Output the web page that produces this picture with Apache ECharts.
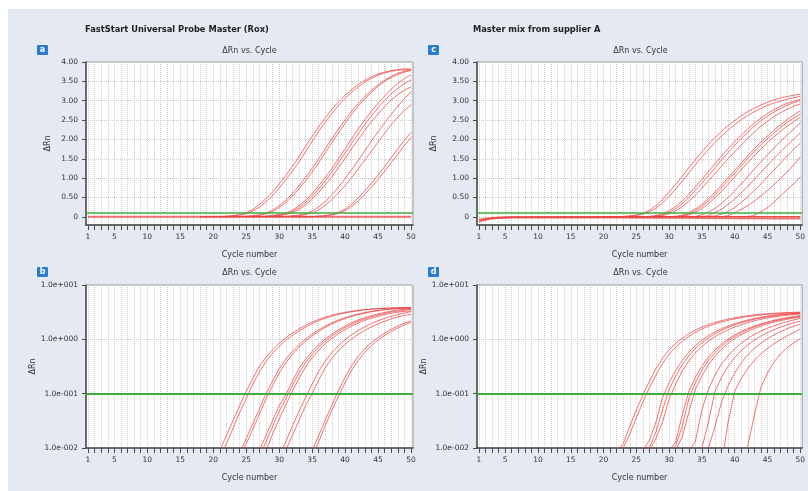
<!DOCTYPE html>
<html>
<head>
<meta charset="utf-8">
<script src="https://cdn.jsdelivr.net/npm/echarts@6/dist/echarts.min.js"></script>
<style>
  html, body { margin: 0; padding: 0; background: #fff; }
  #chart { width: 808px; height: 491px; }
</style>
</head>
<body>
<div id="chart"></div>
<script>
// axis ticks
const cycleTicks = [1, 2, 3, 4, 5, 6, 7, 8, 9, 10, 11, 12, 13, 14, 15, 16, 17, 18, 19, 20,
  21, 22, 23, 24, 25, 26, 27, 28, 29, 30, 31, 32, 33, 34, 35, 36, 37, 38, 39, 40,
  41, 42, 43, 44, 45, 46, 47, 48, 49, 50]
const cycleLabels = [1, 5, 10, 15, 20, 25, 30, 35, 40, 45, 50]
const linearTicks = [0, 0.5, 1, 1.5, 2, 2.5, 3, 3.5, 4]
const threshold = 0.1

// FastStart Universal Probe Master (Rox): first cycle of each curve, then ΔRn per cycle
const fastStartStarts = [18, 18, 21, 21, 25, 25, 26, 28, 29, 32, 33]
const fastStartCurves = [
  [.002, .003, .005, .009, .017, .032, .06, .11, .19, .32, .47, .64, .85, 1.07, 1.30, 1.55, 1.82, 2.08, 2.33, 2.56, 2.78, 2.97, 3.14, 3.29, 3.42, 3.53, 3.62, 3.69, 3.74, 3.78, 3.80, 3.82, 3.82],
  [.0015, .002, .004, .007, .012, .023, .045, .08, .15, .25, .39, .55, .74, .96, 1.18, 1.42, 1.68, 1.95, 2.21, 2.45, 2.67, 2.88, 3.06, 3.22, 3.36, 3.48, 3.58, 3.66, 3.72, 3.76, 3.79, 3.80, 3.80],
  [.002, .003, .005, .008, .015, .028, .052, .1, .17, .29, .43, .6, .8, 1.02, 1.25, 1.5, 1.76, 2.02, 2.27, 2.51, 2.73, 2.93, 3.11, 3.27, 3.41, 3.53, 3.63, 3.71, 3.76, 3.80],
  [.0015, .0025, .004, .007, .012, .022, .042, .08, .14, .24, .37, .53, .72, .93, 1.16, 1.4, 1.66, 1.92, 2.17, 2.42, 2.65, 2.86, 3.05, 3.22, 3.37, 3.5, 3.6, 3.68, 3.74, 3.78],
  [.003, .005, .009, .017, .032, .06, .095, .17, .29, .43, .6, .8, 1.02, 1.25, 1.5, 1.76, 2.02, 2.27, 2.51, 2.73, 2.93, 3.12, 3.3, 3.45, 3.57, 3.67],
  [.002, .004, .007, .013, .025, .047, .08, .14, .24, .37, .53, .72, .93, 1.16, 1.4, 1.65, 1.9, 2.15, 2.39, 2.61, 2.82, 3.01, 3.18, 3.32, 3.44, 3.54],
  [.003, .005, .009, .018, .034, .062, .11, .19, .31, .46, .63, .83, 1.04, 1.27, 1.51, 1.76, 2.0, 2.24, 2.46, 2.66, 2.85, 3.02, 3.16, 3.27, 3.36],
  [.002, .004, .007, .013, .025, .047, .085, .15, .26, .4, .57, .77, .99, 1.22, 1.46, 1.71, 1.96, 2.2, 2.43, 2.65, 2.86, 3.05, 3.23],
  [.003, .005, .009, .017, .032, .06, .1, .18, .3, .45, .62, .81, 1.02, 1.24, 1.47, 1.7, 1.93, 2.16, 2.38, 2.58, 2.75, 2.89],
  [.002, .003, .005, .009, .017, .033, .062, .115, .2, .33, .49, .67, .87, 1.08, 1.3, 1.53, 1.76, 1.98, 2.18],
  [.003, .004, .007, .013, .026, .05, .09, .16, .27, .41, .58, .77, .97, 1.18, 1.4, 1.62, 1.84, 2.05],
]
// flat wells sitting on zero in the linear view
const fastStartFlatCycles = [1, 10, 20, 30, 40, 50]
const fastStartFlat = [0, 0, 0, 0, 0, 0]

// Master mix from supplier A
const supplierStarts = [20, 21, 24, 24, 25, 28, 28, 29, 31, 33, 34, 38, 40]
const supplierCurves = [
  [.003, .005, .008, .012, .025, .05, .095, .17, .29, .45, .64, .84, 1.05, 1.27, 1.48, 1.68, 1.87, 2.05, 2.21, 2.36, 2.49, 2.61, 2.72, 2.81, 2.89, 2.96, 3.02, 3.07, 3.11, 3.14, 3.17],
  [.004, .006, .01, .018, .036, .07, .13, .22, .36, .53, .72, .92, 1.13, 1.34, 1.55, 1.74, 1.92, 2.09, 2.24, 2.38, 2.51, 2.62, 2.72, 2.8, 2.88, 2.94, 2.99, 3.04, 3.08, 3.11],
  [.004, .006, .009, .014, .03, .085, .16, .27, .41, .58, .77, .97, 1.17, 1.37, 1.57, 1.76, 1.94, 2.11, 2.27, 2.42, 2.55, 2.67, 2.77, 2.86, 2.93, 2.99, 3.04],
  [.003, .005, .007, .01, .02, .05, .12, .21, .34, .5, .68, .87, 1.07, 1.27, 1.47, 1.66, 1.85, 2.03, 2.19, 2.34, 2.48, 2.6, 2.71, 2.8, 2.88, 2.95, 3.0],
  [.004, .006, .009, .015, .03, .08, .15, .26, .4, .56, .74, .93, 1.12, 1.31, 1.5, 1.68, 1.86, 2.03, 2.19, 2.34, 2.47, 2.59, 2.69, 2.78, 2.86, 2.92],
  [.004, .006, .009, .013, .04, .11, .2, .32, .47, .64, .82, 1.01, 1.2, 1.39, 1.58, 1.76, 1.93, 2.09, 2.24, 2.38, 2.51, 2.63, 2.74],
  [.003, .005, .008, .011, .025, .08, .16, .27, .41, .57, .75, .94, 1.13, 1.32, 1.51, 1.69, 1.86, 2.02, 2.17, 2.31, 2.44, 2.55, 2.65],
  [.004, .006, .009, .016, .045, .12, .21, .34, .49, .66, .84, 1.03, 1.22, 1.4, 1.58, 1.75, 1.92, 2.07, 2.21, 2.34, 2.46, 2.57],
  [.004, .006, .009, .013, .05, .12, .22, .35, .5, .67, .85, 1.04, 1.23, 1.42, 1.6, 1.78, 1.95, 2.11, 2.27, 2.42],
  [.005, .007, .01, .03, .11, .2, .32, .46, .62, .79, .97, 1.15, 1.33, 1.51, 1.68, 1.85, 2.01, 2.17],
  [.004, .006, .01, .025, .07, .14, .24, .37, .52, .68, .85, 1.03, 1.21, 1.39, 1.57, 1.74, 1.9],
  [.005, .03, .11, .19, .29, .41, .54, .68, .83, .99, 1.16, 1.34, 1.55],
  [.004, .007, .011, .04, .13, .24, .38, .54, .7, .86, 1.02],
]
// baseline drift of the unamplified wells (linear view only)
const supplierFlatCycles = [1, 2, 3, 4, 6, 10, 20, 30, 40, 50]
const supplierFlat = [
  [-0.1, -0.06, -0.035, -0.02, -0.01, -0.005, 0, 0, 0, 0],
  [-0.13, -0.08, -0.05, -0.035, -0.025, -0.02, -0.02, -0.03, -0.04, -0.05],
  [-0.07, -0.04, -0.02, -0.01, 0, 0, 0.005, 0.005, 0, 0],
]

const font = "DejaVu Sans"
const ink = "#333"
const axisInk = "#4a4a4a"
const red = "rgba(236, 62, 62, 0.72)"
const green = "#3fae3f"
const gridInk = "#cdcdcd"

const pairs = (xs, ys) => ys.map((v, i) => [xs[i], v])
const fromCycle = (start, values) => values.map((v, i) => [start + i, v])
const sciLabel = (v) => {
  const e = Math.round(Math.log10(v))
  return "1.0e" + (e < 0 ? "-" : "+") + String(Math.abs(e)).padStart(3, "0")
}

const grids = [
  { left: 86, top: 62, width: 327, height: 163 },
  { left: 477, top: 62, width: 327, height: 163 },
  { left: 86, top: 285, width: 327, height: 163 },
  { left: 477, top: 285, width: 327, height: 163 },
].map((g) => ({ ...g, show: true, backgroundColor: "#fff", borderColor: "#9a9a9a", borderWidth: 1 }))

const xAxes = grids.map((g, i) => ({
  type: "value", gridIndex: i, min: 0.7, max: 50.3,
  name: "Cycle number", nameLocation: "middle", nameGap: 26,
  nameTextStyle: { fontFamily: font, fontSize: 8, color: ink },
  axisLine: { onZero: false, lineStyle: { color: axisInk, width: 1.5 } },
  axisTick: { length: 5, customValues: cycleTicks, lineStyle: { color: axisInk } },
  axisLabel: { customValues: cycleLabels, margin: 8, fontFamily: font, fontSize: 7.5, color: ink },
  splitLine: { show: true, lineStyle: { color: gridInk, type: "dotted" } },
}))

const yName = (gap) => ({
  name: "ΔRn", nameLocation: "middle", nameGap: gap,
  nameTextStyle: { fontFamily: font, fontSize: 8, color: ink },
})
const linearY = (i, gap) => ({
  type: "value", gridIndex: i, min: -0.21, max: 4, ...yName(gap),
  axisLine: { show: true, onZero: false, lineStyle: { color: axisInk, width: 1.5 } },
  axisTick: { show: true, length: 4, customValues: linearTicks, lineStyle: { color: axisInk } },
  axisLabel: {
    customValues: linearTicks, margin: 8, fontFamily: font, fontSize: 7.5, color: ink,
    formatter: (v) => (v === 0 ? "0" : v.toFixed(2)),
  },
  splitLine: { show: true, lineStyle: { color: gridInk, type: "dotted" } },
})
const logY = (i, gap) => ({
  type: "log", logBase: 10, gridIndex: i, min: 0.01, max: 10, ...yName(gap),
  axisLine: { show: true, onZero: false, lineStyle: { color: axisInk, width: 1.5 } },
  axisTick: { show: true, length: 4, lineStyle: { color: axisInk } },
  axisLabel: { margin: 8, fontFamily: font, fontSize: 7.5, color: ink, formatter: sciLabel },
  splitLine: { show: true, lineStyle: { color: gridInk, type: "dotted" } },
})
const yAxes = [linearY(0, 34), linearY(1, 39), logY(2, 39), logY(3, 38)]

const curve = (axis, data, width = 1) => ({
  type: "line", xAxisIndex: axis, yAxisIndex: axis, data,
  symbol: "none", silent: true, lineStyle: { color: red, width },
})
const thresholdLine = (width) => ({
  silent: true, symbol: "none", label: { show: false },
  lineStyle: { color: green, width, type: "solid" },
  data: [{ yAxis: threshold }],
})

const series = []
series.push({ ...curve(0, pairs(fastStartFlatCycles, fastStartFlat), 2), markLine: thresholdLine(1.5) })
fastStartCurves.forEach((vals, k) => series.push(curve(0, fromCycle(fastStartStarts[k], vals))))
fastStartCurves.forEach((vals, k) => {
  const s = curve(2, fromCycle(fastStartStarts[k], vals))
  if (k === 0) s.markLine = thresholdLine(2)
  series.push(s)
})
supplierFlat.forEach((vals, k) => {
  const s = curve(1, pairs(supplierFlatCycles, vals), 1.5)
  if (k === 0) s.markLine = thresholdLine(1.5)
  series.push(s)
})
supplierCurves.forEach((vals, k) => series.push(curve(1, fromCycle(supplierStarts[k], vals))))
supplierCurves.forEach((vals, k) => {
  const s = curve(3, fromCycle(supplierStarts[k], vals))
  if (k === 0) s.markLine = thresholdLine(2)
  series.push(s)
})

const heading = (text, left, top, bold) => ({
  text, left, top, padding: 0,
  textAlign: bold ? "left" : "center",
  textStyle: { fontFamily: font, fontSize: bold ? 8.3 : 8, fontWeight: bold ? "bold" : "normal", color: bold ? "#222" : ink },
})
const badge = (letter, x, y) => ({
  type: "group", x, y, z: 10,
  children: [
    { type: "rect", shape: { x: 0, y: 0, width: 11, height: 10, r: 1 }, style: { fill: "#2b7ccc" } },
    { type: "text", x: 5.5, y: 5, style: { text: letter, fill: "#fff", font: "bold 8px DejaVu Sans", textAlign: "center", textVerticalAlign: "middle" } },
  ],
})

const chart = echarts.init(document.getElementById("chart"))
chart.setOption({
  animation: false,
  backgroundColor: "#fff",
  title: [
    heading("FastStart Universal Probe Master (Rox)", 85, 26, true),
    heading("Master mix from supplier A", 473, 26, true),
    heading("ΔRn vs. Cycle", 249.5, 47, false),
    heading("ΔRn vs. Cycle", 640.5, 47, false),
    heading("ΔRn vs. Cycle", 249.5, 269, false),
    heading("ΔRn vs. Cycle", 640.5, 269, false),
  ],
  graphic: [
    { type: "rect", z: -100, shape: { x: 8, y: 9, width: 800, height: 482 }, style: { fill: "#e4e9f2" } },
    badge("a", 37, 45), badge("c", 428, 45), badge("b", 37, 267), badge("d", 428, 267),
  ],
  grid: grids,
  xAxis: xAxes,
  yAxis: yAxes,
  series,
})
</script>
</body>
</html>
